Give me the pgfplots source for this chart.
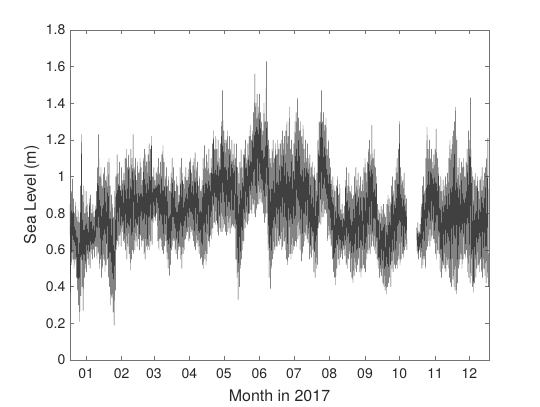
\documentclass[border=0pt]{standalone}
\usepackage{pgfplots}
\pgfplotsset{compat=1.18}
\usepackage{fontspec}
\setmainfont{TeX Gyre Heros}
\begin{document}
\begin{tikzpicture}
\begin{axis}[
  at={(0,0)}, anchor=south west,
  scale only axis, width=314.25pt, height=247.5pt,
  xmin=0, xmax=365, ymin=0, ymax=1.8,
  xtick={14,45,73,104,134,165,195,226,257,287,318,348},
  xticklabels={01,02,03,04,05,06,07,08,09,10,11,12},
  ytick={0,0.2,...,1.8},
  yticklabel style={/pgf/number format/fixed,/pgf/number format/precision=1},
  /pgf/number format/assume math mode=true,
  tick align=inside, major tick length=3pt,
  axis line style={black!55, line width=0.4pt},
  tick style={black!55, line width=0.4pt},
  every tick label/.append style={font=\fontsize{10.5}{12}\selectfont, text=black!85},
  xticklabel style={yshift=-3pt},
  xlabel={Month in 2017}, ylabel={Sea Level (m)},
  label style={font=\fontsize{12}{14}\selectfont, text=black!85},
  xlabel style={yshift=-1.5pt},
  ylabel style={yshift=-2pt},
]
\addplot[black!75, line width=0.3pt, line join=round] table[row sep=\\, header=false, x expr=\coordindex/2, y index=0] {
0.85\\0.37\\0.92\\0.52\\0.99\\0.55\\0.88\\0.50\\
0.80\\0.55\\0.86\\0.45\\0.78\\0.38\\0.82\\0.30\\
0.75\\0.21\\0.95\\0.35\\1.23\\0.40\\0.90\\0.27\\
0.95\\0.45\\0.80\\0.50\\0.92\\0.48\\0.85\\0.55\\
0.78\\0.52\\0.88\\0.50\\0.90\\0.58\\0.80\\0.55\\
0.85\\0.60\\0.78\\0.56\\0.84\\0.62\\0.92\\0.55\\
1.05\\0.58\\1.23\\0.50\\1.00\\0.55\\1.05\\0.45\\
0.95\\0.50\\1.02\\0.55\\1.05\\0.48\\0.98\\0.52\\
1.00\\0.55\\1.08\\0.45\\1.10\\0.40\\0.95\\0.30\\
0.90\\0.34\\0.85\\0.26\\0.78\\0.19\\0.92\\0.38\\
1.00\\0.60\\1.12\\0.65\\1.02\\0.62\\1.08\\0.68\\
0.95\\0.62\\1.05\\0.70\\0.98\\0.65\\1.02\\0.64\\
1.10\\0.60\\1.15\\0.55\\1.05\\0.62\\1.12\\0.58\\
1.05\\0.49\\1.15\\0.55\\1.10\\0.60\\1.23\\0.58\\
1.05\\0.60\\1.10\\0.65\\0.98\\0.62\\1.08\\0.66\\
1.02\\0.60\\1.10\\0.68\\1.05\\0.62\\0.98\\0.65\\
1.10\\0.58\\1.15\\0.55\\1.12\\0.62\\1.08\\0.60\\
1.12\\0.62\\1.18\\0.60\\1.15\\0.65\\1.22\\0.63\\
1.00\\0.75\\1.05\\0.78\\0.98\\0.76\\1.02\\0.80\\
1.05\\0.65\\1.10\\0.60\\1.02\\0.66\\1.08\\0.62\\
1.12\\0.60\\1.17\\0.58\\1.08\\0.62\\1.00\\0.65\\
1.05\\0.55\\0.95\\0.50\\1.00\\0.46\\0.92\\0.52\\
1.02\\0.60\\1.10\\0.62\\1.05\\0.65\\0.98\\0.60\\
0.92\\0.58\\1.00\\0.55\\0.95\\0.60\\0.90\\0.62\\
1.05\\0.55\\1.10\\0.50\\1.02\\0.58\\0.96\\0.60\\
1.00\\0.66\\1.05\\0.68\\0.98\\0.70\\1.04\\0.65\\
1.08\\0.66\\1.10\\0.70\\1.02\\0.68\\1.06\\0.65\\
1.10\\0.62\\1.13\\0.60\\1.05\\0.64\\1.08\\0.62\\
0.95\\0.58\\1.00\\0.55\\0.92\\0.56\\0.98\\0.52\\
1.10\\0.50\\1.17\\0.55\\1.05\\0.52\\1.12\\0.58\\
1.08\\0.65\\1.15\\0.62\\1.02\\0.68\\1.10\\0.66\\
1.18\\0.72\\1.25\\0.75\\1.15\\0.74\\1.22\\0.76\\
1.15\\0.70\\1.20\\0.68\\1.10\\0.72\\1.18\\0.70\\
1.30\\0.70\\1.47\\0.72\\1.25\\0.74\\1.20\\0.70\\
1.20\\0.68\\1.25\\0.70\\1.15\\0.72\\1.22\\0.69\\
1.15\\0.72\\1.20\\0.74\\1.12\\0.73\\1.18\\0.72\\
1.10\\0.55\\1.18\\0.45\\1.05\\0.33\\1.02\\0.40\\
1.08\\0.50\\1.15\\0.55\\1.05\\0.60\\1.12\\0.65\\
1.15\\0.72\\1.20\\0.75\\1.10\\0.74\\1.18\\0.76\\
1.22\\0.80\\1.28\\0.82\\1.20\\0.80\\1.25\\0.85\\
1.35\\0.80\\1.56\\0.78\\1.40\\0.82\\1.45\\0.85\\
1.38\\0.85\\1.45\\0.88\\1.35\\0.86\\1.30\\0.85\\
1.25\\0.80\\1.40\\0.75\\1.30\\0.78\\1.63\\0.80\\
1.30\\0.60\\1.20\\0.45\\1.15\\0.39\\1.10\\0.50\\
1.15\\0.55\\1.20\\0.58\\1.10\\0.60\\1.18\\0.62\\
1.12\\0.62\\1.20\\0.65\\1.15\\0.63\\1.18\\0.66\\
1.20\\0.60\\1.25\\0.62\\1.18\\0.65\\1.22\\0.60\\
1.25\\0.55\\1.30\\0.52\\1.22\\0.56\\1.38\\0.58\\
1.15\\0.55\\1.20\\0.58\\1.12\\0.60\\1.18\\0.62\\
1.30\\0.65\\1.35\\0.62\\1.43\\0.66\\1.32\\0.68\\
1.25\\0.60\\1.30\\0.54\\1.22\\0.58\\1.28\\0.62\\
1.15\\0.65\\1.20\\0.68\\1.10\\0.66\\1.18\\0.64\\
1.10\\0.55\\1.12\\0.58\\1.05\\0.56\\1.08\\0.60\\
1.00\\0.48\\1.05\\0.45\\0.98\\0.50\\1.02\\0.52\\
1.20\\0.72\\1.30\\0.75\\1.35\\0.74\\1.47\\0.78\\
1.30\\0.78\\1.35\\0.80\\1.28\\0.82\\1.32\\0.80\\
1.15\\0.65\\1.20\\0.68\\1.10\\0.66\\1.05\\0.62\\
0.98\\0.55\\1.00\\0.48\\0.95\\0.45\\0.92\\0.41\\
0.95\\0.50\\1.00\\0.55\\0.90\\0.52\\0.96\\0.56\\
0.82\\0.58\\0.85\\0.55\\0.80\\0.60\\0.84\\0.57\\
0.98\\0.52\\1.05\\0.50\\0.95\\0.55\\1.02\\0.58\\
0.92\\0.48\\0.95\\0.45\\0.88\\0.42\\0.90\\0.46\\
1.00\\0.50\\1.05\\0.48\\0.98\\0.52\\1.02\\0.55\\
0.95\\0.48\\1.00\\0.45\\0.92\\0.50\\0.98\\0.52\\
1.05\\0.50\\1.10\\0.48\\1.02\\0.55\\1.08\\0.58\\
1.15\\0.60\\1.20\\0.58\\1.12\\0.62\\1.28\\0.65\\
1.10\\0.62\\1.15\\0.60\\1.05\\0.58\\1.00\\0.55\\
0.85\\0.50\\0.82\\0.45\\0.80\\0.48\\0.84\\0.46\\
0.82\\0.42\\0.85\\0.40\\0.80\\0.38\\0.78\\0.36\\
0.85\\0.40\\0.90\\0.42\\0.88\\0.45\\0.86\\0.40\\
0.95\\0.50\\1.00\\0.48\\0.92\\0.52\\0.98\\0.50\\
1.05\\0.52\\1.10\\0.50\\1.15\\0.55\\1.30\\0.52\\
1.05\\0.55\\1.00\\0.58\\0.98\\0.56\\1.02\\0.60\\
0.90\\0.62\\0.88\\0.60\\
};
\addplot[black!75, line width=0.3pt, line join=round] table[row sep=\\, header=false, x expr=302+\coordindex/2, y index=0] {
0.72\\0.58\\0.75\\0.55\\0.70\\0.60\\0.74\\0.56\\
0.85\\0.50\\0.95\\0.52\\1.00\\0.55\\0.92\\0.50\\
1.10\\0.60\\1.27\\0.62\\1.15\\0.65\\1.20\\0.62\\
1.10\\0.65\\1.15\\0.68\\1.08\\0.66\\1.12\\0.64\\
1.15\\0.58\\1.26\\0.55\\1.10\\0.60\\1.05\\0.58\\
0.95\\0.48\\1.00\\0.45\\0.92\\0.50\\0.98\\0.52\\
0.95\\0.50\\1.00\\0.48\\0.96\\0.52\\1.02\\0.50\\
1.10\\0.45\\1.20\\0.42\\1.15\\0.40\\1.22\\0.44\\
1.25\\0.40\\1.30\\0.38\\1.38\\0.36\\1.20\\0.42\\
1.05\\0.50\\1.10\\0.52\\1.02\\0.55\\1.08\\0.50\\
1.05\\0.55\\1.10\\0.58\\1.00\\0.56\\1.08\\0.60\\
1.15\\0.48\\1.25\\0.45\\1.20\\0.42\\1.43\\0.46\\
1.05\\0.40\\1.00\\0.37\\0.98\\0.42\\1.02\\0.45\\
0.95\\0.50\\1.00\\0.52\\0.92\\0.48\\0.98\\0.55\\
1.00\\0.48\\1.05\\0.45\\0.98\\0.50\\1.02\\0.46\\
1.05\\0.42\\1.10\\0.45\\1.21\\0.40\\
};
\end{axis}
\path (-52.5pt,-33.75pt) rectangle (352.5pt,270pt);
\end{tikzpicture}
\end{document}
